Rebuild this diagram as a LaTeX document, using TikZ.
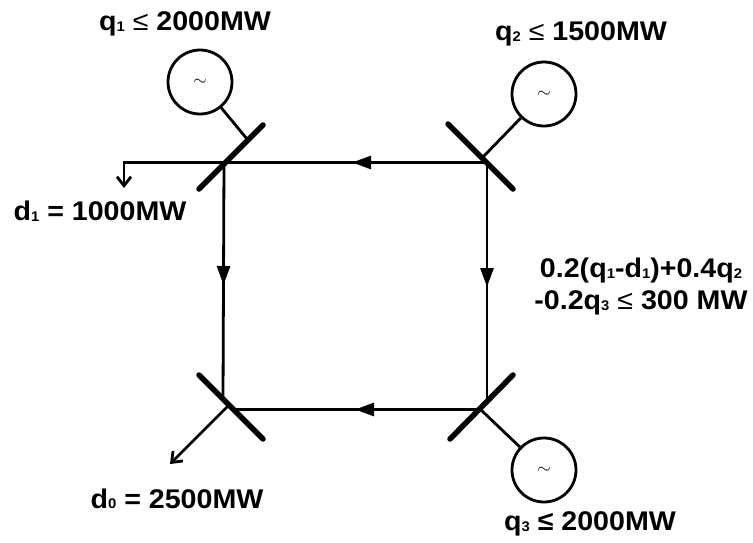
\documentclass[tikz,border=0pt]{standalone}
\usepackage{fontspec}
\setmainfont{Liberation Sans}
\usetikzlibrary{arrows.meta,decorations.markings}
\newcommand{\sbn}[1]{\raisebox{-0.5pt}{\fontsize{14}{14}\selectfont #1}}
\newcommand{\leqn}{{\mdseries ≤}}
\newcommand{\wide}[1]{\scalebox{1.06}[1]{#1}}
\tikzset{
  x=1pt,y=-1pt,
  wire/.style={line width=2.8pt,draw=black},
  busbar/.style={line width=5.5pt,line cap=round,draw=black},
  tap/.style={line width=2.8pt,draw=black,-{Straight Barb[length=9pt,width=14pt,line width=2.8pt]}},
  link/.style={line width=2.8pt,draw=black},
  flow/.style={wire,postaction={decorate},decoration={markings,mark=at position #1 with {\arrow{Triangle[length=19pt,width=13pt]}}}},
  gen/.style={circle,draw=black,line width=2.8pt,fill=white,minimum size=64pt,inner sep=0pt,font=\fontsize{16}{16}\selectfont},
  lab/.style={font=\fontsize{27}{32}\selectfont\bfseries,inner sep=0pt,align=center,text=black},
}
\begin{document}
\begin{tikzpicture}
\useasboundingbox (0,0) rectangle (753,542);
% line ends on the bars
\coordinate (j1) at (225,162.5);
\coordinate (j1v) at (224,162.5);
\coordinate (j2) at (487,162.5);
\coordinate (j3v) at (223,399);
\coordinate (j3h) at (233,409.5);
\coordinate (j4v) at (487,401);
\coordinate (j4h) at (479,409.5);
\coordinate (b1a) at (199,189); \coordinate (b1b) at (263,125);
\coordinate (b2a) at (448,124); \coordinate (b2b) at (513,189);
\coordinate (b3a) at (199,375); \coordinate (b3b) at (263,439);
\coordinate (b4a) at (450,439); \coordinate (b4b) at (513,375);
\coordinate (t1) at (247,139); \coordinate (t2) at (483,157);
\coordinate (t4) at (480,409);
\coordinate (c1) at (124,162.5); \coordinate (e1) at (124,188);
\coordinate (c3) at (228,406); \coordinate (e3) at (170,464);
% generators
\node[gen] (g1) at (200,82) {$\sim$};
\node[gen] (g2) at (544,94) {$\sim$};
\node[gen] (g3) at (544,470) {$\sim$};
% lines
\draw[flow=0.515] (j2) -- (j1);
\draw[flow=0.522] (j2) -- (j4v);
\draw[flow=0.518] (j1v) -- (j3v);
\draw[flow=0.504] (j4h) -- (j3h);
\draw[link] (g1) -- (t1);
\draw[link] (g2) -- (t2);
\draw[link] (g3) -- (t4);
\draw[tap] (j1) -- (c1) -- (e1);
\draw[tap] (c3) -- (e3);
% bars
\draw[busbar] (b1a) -- (b1b);
\draw[busbar] (b2a) -- (b2b);
\draw[busbar] (b3a) -- (b3b);
\draw[busbar] (b4a) -- (b4b);
% labels
\node[lab] (l1) at (185,24) {\wide{q\sbn{1} \leqn{} 2000MW}};
\node[lab] (l2) at (581,34) {\wide{q\sbn{2} \leqn{} 1500MW}};
\node[lab] (l3) at (100,211) {\wide{d\sbn{1} = 1000MW}};
\node[lab] (l4) at (641,287) {\wide{0.2(q\sbn{1}-d\sbn{1})+0.4q\sbn{2}}\\\wide{-0.2q\sbn{3} \leqn{} 300 MW}};
\node[lab] (l5) at (177,499) {\wide{d\sbn{0} = 2500MW}};
\node[lab] (l6) at (590,524) {\wide{q\sbn{3} ≤ 2000MW}};
\end{tikzpicture}
\end{document}
